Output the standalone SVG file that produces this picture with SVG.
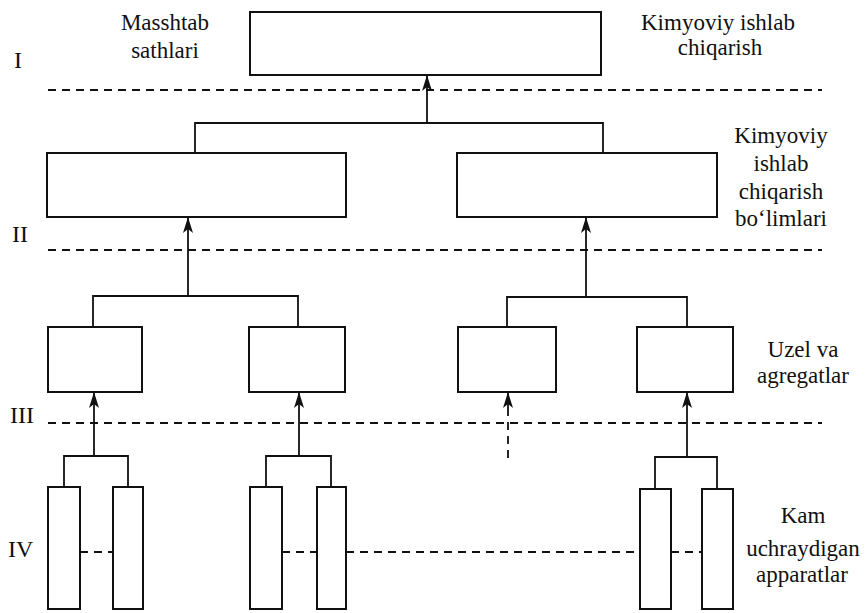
<svg xmlns="http://www.w3.org/2000/svg" width="867" height="613" viewBox="0 0 867 613">
<style>
.box{fill:#fff;stroke:#111;stroke-width:2}
.ln{fill:none;stroke:#111;stroke-width:1.8}
.dash{fill:none;stroke:#111;stroke-width:1.8;stroke-dasharray:8 6}
.t{font-family:'Liberation Serif', serif;font-size:23px;fill:#111;text-anchor:middle}
.r{font-family:'Liberation Serif', serif;font-size:24px;fill:#111}
</style>
<defs>
<marker id="ah" viewBox="0 0 16 10" refX="15" refY="5" markerWidth="16" markerHeight="10" markerUnits="userSpaceOnUse" orient="auto">
<path d="M0,0 L16,5 L0,10 L4,5 z" fill="#111"/>
</marker>
</defs>
<rect width="867" height="613" fill="#fff"/>

<g id="levels">
<line class="dash" x1="48" y1="90" x2="822" y2="90"/>
<line class="dash" x1="48" y1="250" x2="822" y2="250"/>
<line class="dash" x1="48" y1="423" x2="822" y2="423"/>
<line class="dash" x1="80" y1="552" x2="113" y2="552"/>
<line class="dash" x1="282" y1="552" x2="317" y2="552"/>
<line class="dash" x1="346" y1="552" x2="640" y2="552"/>
<line class="dash" x1="671" y1="552" x2="702" y2="552"/>
</g>

<g id="labels" font-family="Liberation Serif">
<text class="r" x="14" y="68">I</text>
<text class="r" x="12" y="242">II</text>
<text class="r" x="10" y="423">III</text>
<text class="r" x="8" y="557">IV</text>
<text class="t" x="165" y="30">Masshtab</text>
<text class="t" x="165" y="58">sathlari</text>
<text class="t" x="718" y="30">Kimyoviy ishlab</text>
<text class="t" x="720" y="55">chiqarish</text>
<text class="t" x="781" y="143">Kimyoviy</text>
<text class="t" x="781" y="171">ishlab</text>
<text class="t" x="781" y="199">chiqarish</text>
<text class="t" x="781" y="226">bo‘limlari</text>
<text class="t" x="803" y="357">Uzel va</text>
<text class="t" x="803" y="383">agregatlar</text>
<text class="t" x="803" y="523">Kam</text>
<text class="t" x="803" y="556">uchraydigan</text>
<text class="t" x="802" y="582">apparatlar</text>
</g>

<g id="connectors">
<polyline class="ln" points="195,153 195,123 603,123 603,153"/>
<line class="ln" x1="427" y1="123" x2="427" y2="76" marker-end="url(#ah)"/>
<polyline class="ln" points="93,327 93,296 298,296 298,327"/>
<polyline class="ln" points="507,327 507,297 687,297 687,327"/>
<line class="ln" x1="188" y1="296" x2="188" y2="218" marker-end="url(#ah)"/>
<line class="ln" x1="586" y1="297" x2="586" y2="218" marker-end="url(#ah)"/>
<polyline class="ln" points="64,487 64,456 128,456 128,487"/>
<polyline class="ln" points="266,487 266,456 331,456 331,487"/>
<polyline class="ln" points="655,489 655,457 717,457 717,489"/>
<line class="ln" x1="94" y1="456" x2="94" y2="393" marker-end="url(#ah)"/>
<line class="ln" x1="299" y1="456" x2="299" y2="393" marker-end="url(#ah)"/>
<line class="ln" x1="687" y1="457" x2="687" y2="393" marker-end="url(#ah)"/>
<line class="dash" x1="508" y1="458" x2="508" y2="402"/>
<line class="ln" x1="508" y1="408" x2="508" y2="393" marker-end="url(#ah)"/>
</g>

<g id="n-top"><rect class="box" x="250" y="12" width="351" height="63"/></g>
<g id="n-2a"><rect class="box" x="47" y="153" width="299" height="64"/></g>
<g id="n-2b"><rect class="box" x="457" y="153" width="260" height="64"/></g>
<g id="n-3a"><rect class="box" x="48" y="327" width="94" height="65"/></g>
<g id="n-3b"><rect class="box" x="249" y="327" width="96" height="65"/></g>
<g id="n-3c"><rect class="box" x="458" y="327" width="98" height="65"/></g>
<g id="n-3d"><rect class="box" x="637" y="327" width="96" height="65"/></g>
<g id="n-4a"><rect class="box" x="48" y="487" width="32" height="122"/></g>
<g id="n-4b"><rect class="box" x="113" y="487" width="30" height="122"/></g>
<g id="n-4c"><rect class="box" x="250" y="487" width="32" height="122"/></g>
<g id="n-4d"><rect class="box" x="317" y="487" width="29" height="122"/></g>
<g id="n-4e"><rect class="box" x="640" y="489" width="31" height="120"/></g>
<g id="n-4f"><rect class="box" x="702" y="489" width="31" height="120"/></g>
</svg>
